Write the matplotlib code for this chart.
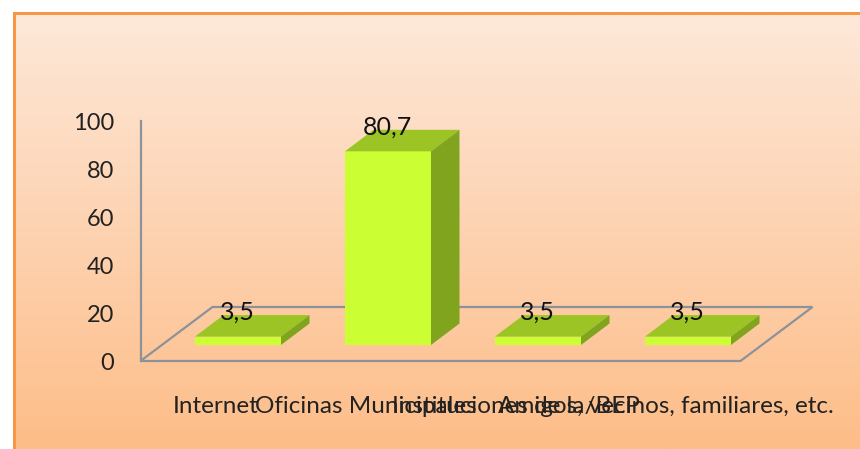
import matplotlib.pyplot as plt
import numpy as np
from matplotlib.colors import LinearSegmentedColormap
from matplotlib.patches import Polygon, Rectangle

categories = ['Internet', 'Oficinas Municipales', 'Instituciones de la/BEP', 'Amigos, vecinos, familiares, etc.']
values = [3.5, 80.7, 3.5, 3.5]
labels = ['3,5', '80,7', '3,5', '3,5']
yticks = [0, 20, 40, 60, 80, 100]

W, H = 860, 449
plt.rcParams['font.family'] = ['Lato', 'DejaVu Sans']

fig = plt.figure(figsize=(W / 100, H / 100), dpi=100, facecolor='white')

# orange frame and background gradient
bg = fig.add_axes([0, 0, 1, 1])
cmap = LinearSegmentedColormap.from_list('peach', ['#fee8d9', '#fdbd88'])
bg.imshow(np.linspace(0, 1, 256).reshape(-1, 1), cmap=cmap, aspect='auto', extent=[16, W, H, 15])
bg.set_xlim(0, W)
bg.set_ylim(H, 0)
bg.axis('off')
bg.add_patch(Rectangle((13, 12), 3, 437, color='#f79646', lw=0))
bg.add_patch(Rectangle((13, 12), 847, 3, color='#f79646', lw=0))

# 600 px for 4 categories, 240 px for 100 units
ax = fig.add_axes([140.5 / W, 1 - 361 / H, 600 / W, 240 / H])
ax.patch.set_alpha(0)
ax.set_xlim(-0.5, 3.5)
ax.set_ylim(0, 100)

# oblique depth in data units
floor_dx, floor_dy = 72 / 150, 54 / 2.4
wall = '#8c9299'
ax.add_patch(Polygon([(-0.5, 0), (3.5, 0), (3.5 + floor_dx, floor_dy), (-0.5 + floor_dx, floor_dy)],
                     closed=True, fill=False, edgecolor=wall, lw=1.6, clip_on=False))

x = np.arange(len(values))
shift_x, shift_y = 22.5 / 150, 16 / 2.4
depth_x, depth_y = 28.5 / 150, 21.5 / 2.4
width = 86 / 150
for i, v in enumerate(values):
    left = x[i] + shift_x - width / 2
    right = left + width
    top = shift_y + v
    ax.bar(x[i] + shift_x, v, width=width, bottom=shift_y, color='#ccff33', clip_on=False, zorder=3)
    ax.add_patch(Polygon([(left, top), (right, top), (right + depth_x, top + depth_y), (left + depth_x, top + depth_y)],
                         closed=True, color='#9bc424', lw=0, clip_on=False, zorder=3))
    ax.add_patch(Polygon([(right, shift_y), (right + depth_x, shift_y + depth_y), (right + depth_x, top + depth_y), (right, top)],
                         closed=True, color='#80a41e', lw=0, clip_on=False, zorder=3))
    ax.text(x[i] + shift_x - 0.007, top + depth_y + 1.3, labels[i], ha='center', va='center', fontsize=18, color='#111111', zorder=4)

for s in ['top', 'right', 'bottom']:
    ax.spines[s].set_visible(False)
ax.spines['left'].set_color(wall)
ax.spines['left'].set_linewidth(1.6)
ax.set_yticks(yticks)
ax.set_yticklabels([str(t) for t in yticks], fontsize=17, color='#222222')
ax.tick_params(axis='y', length=0, pad=19)
ax.set_xticks(x)
ax.set_xticklabels(categories, fontsize=17.5, color='#222222')
ax.tick_params(axis='x', length=0, pad=25.5)

fig.savefig('out.png', dpi=100)
